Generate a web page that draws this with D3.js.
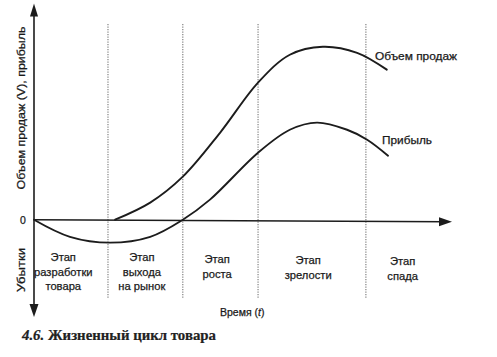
<!DOCTYPE html>
<html>
<head>
<meta charset="utf-8">
<script src="https://cdn.jsdelivr.net/npm/d3@7"></script>
<style>
  html, body { margin: 0; padding: 0; background: #fff; }
  svg { display: block; }
  .lbl { font-family: "Liberation Sans", Arial, sans-serif; fill: #1a1a1a; stroke: #1a1a1a; stroke-width: 0.25px; }
  .cap { font-family: "Liberation Serif", "DejaVu Serif", serif; font-weight: bold; fill: #222; stroke: #222; stroke-width: 0.2px; }
</style>
</head>
<body>
<svg id="chart" width="497" height="357"></svg>
<script>
// ---- data (time in % of life cycle, value in relative units) ----
const salesTime    = [19.4, 27.8, 35.6, 44.5, 53.6, 61.2, 69.1, 77.3, 84.4];
const salesValues  = [0,    7.9,  19.9, 40.2, 63.4, 76.3, 80.0, 77.2, 69.4];
const profitTime   = [0,    8.6,  18.2,  27.8, 35.6, 42.1, 53.6, 61.2, 67.7, 74.9, 79.7, 84.7];
const profitValues = [0,   -7.9, -10.6, -7.9,  0,    9.3,  31.0, 41.6, 44.9, 41.6, 37.0, 29.6];
const stageBounds  = [17.7, 35.6, 53.6, 79.4];
const stageCenters = [7, 25.8, 43.8, 65.6, 88.2];
const stageLabels  = [
  ["Этап", "разработки", "товара"],
  ["Этап", "выхода", "на рынок"],
  ["Этап", "роста"],
  ["Этап", "зрелости"],
  ["Этап", "спада"]
];
const seriesNames  = ["Объем продаж", "Прибыль"];
const yAxisTitle   = "Объем продаж (V), прибыль";
const lossTitle    = "Убытки";
const xAxisTitle   = "Время";
const captionNum   = "4.6.";
const captionText  = " Жизненный цикл товара";

// ---- scales ----
const svg = d3.select("#chart");
const x = d3.scaleLinear().domain([0, 100]).range([34, 452]);
const y = d3.scaleLinear().domain([-45, 100]).range([317, 3.5]);
const ink = "#1c1c1c";

// stage separators (dotted)
svg.append("g").selectAll("line").data(stageBounds).join("line")
  .attr("x1", d => x(d)).attr("x2", d => x(d))
  .attr("y1", 24).attr("y2", 299)
  .attr("stroke", "#777").attr("stroke-width", 1.1)
  .attr("stroke-dasharray", "1.2,1.3");

// axes
const y0 = y(0);
svg.append("line").attr("x1", x(0)).attr("x2", x(100) - 6)
  .attr("y1", y0).attr("y2", y0 + 2)
  .attr("stroke", ink).attr("stroke-width", 1.6);
svg.append("line").attr("x1", x(0)).attr("x2", x(0))
  .attr("y1", y(100) + 6).attr("y2", y(-45) - 6)
  .attr("stroke", ink).attr("stroke-width", 1.6);

// arrowheads
const ax = x(0);
svg.append("path").attr("d", `M${ax},${y(100)} L${ax - 4},${y(100) + 13} L${ax + 4},${y(100) + 13} Z`).attr("fill", ink);
svg.append("path").attr("d", `M${ax},${y(-45)} L${ax - 4.5},${y(-45) - 13} L${ax + 4.5},${y(-45) - 13} Z`).attr("fill", ink);
svg.append("path").attr("d", `M${x(100)},${y0 + 2} L${x(100) - 13},${y0 - 2.5} L${x(100) - 13},${y0 + 6.5} Z`).attr("fill", ink);

// curves
const line = d3.line().curve(d3.curveCatmullRom.alpha(0.5)).x(d => x(d[0])).y(d => y(d[1]));
const sales = salesTime.map((t, i) => [t, salesValues[i]]);
const profit = profitTime.map((t, i) => [t, profitValues[i]]);
[sales, profit].forEach(pts => {
  svg.append("path").datum(pts).attr("d", line)
    .attr("fill", "none").attr("stroke", ink).attr("stroke-width", 1.9)
    .attr("stroke-linecap", "round");
});

// series labels
svg.append("text").attr("class", "lbl").attr("x", 375).attr("y", 60).attr("font-size", 11)
  .attr("textLength", 82).attr("lengthAdjust", "spacingAndGlyphs").text(seriesNames[0]);
svg.append("text").attr("class", "lbl").attr("x", 382).attr("y", 144).attr("font-size", 11)
  .attr("textLength", 50).attr("lengthAdjust", "spacingAndGlyphs").text(seriesNames[1]);

// zero label
svg.append("text").attr("class", "lbl").attr("x", 23).attr("y", y0 + 4).attr("font-size", 10.5)
  .attr("text-anchor", "middle").text("0");

// rotated axis titles
svg.append("text").attr("class", "lbl").attr("transform", "translate(25,108) rotate(-90)")
  .attr("text-anchor", "middle").attr("font-size", 10.5)
  .attr("textLength", 163).attr("lengthAdjust", "spacingAndGlyphs").text(yAxisTitle);
svg.append("text").attr("class", "lbl").attr("transform", "translate(25,270) rotate(-90)")
  .attr("text-anchor", "middle").attr("font-size", 10.5)
  .attr("textLength", 44).attr("lengthAdjust", "spacingAndGlyphs").text(lossTitle);

// stage labels
const stageTop = [261, 261, 263, 264, 265];
stageLabels.forEach((lines, i) => {
  const t = svg.append("text").attr("class", "lbl").attr("text-anchor", "middle").attr("font-size", 11.2);
  lines.forEach((s, j) => {
    t.append("tspan").attr("x", x(stageCenters[i])).attr("y", stageTop[i] + j * 14.5).text(s);
  });
});

// x axis title
const xt = svg.append("text").attr("class", "lbl").attr("x", 220).attr("y", 316).attr("font-size", 10.5);
xt.append("tspan").text(xAxisTitle + " (");
xt.append("tspan").attr("font-style", "italic").text("t");
xt.append("tspan").text(")");

// caption
const cap = svg.append("text").attr("class", "cap").attr("x", 22).attr("y", 340)
  .attr("font-size", 14)
  .attr("textLength", 194).attr("lengthAdjust", "spacingAndGlyphs");
cap.append("tspan").attr("font-style", "italic").text(captionNum);
cap.append("tspan").text(captionText);
</script>
</body>
</html>
